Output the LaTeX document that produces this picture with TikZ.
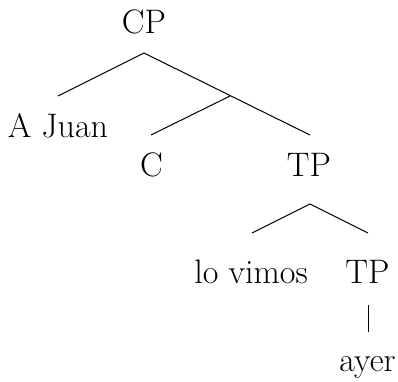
\documentclass[tikz,border=0pt]{standalone}
\usepackage{fontspec}
\begin{document}
\begin{tikzpicture}[x=1pt,y=-1pt,
  lbl/.style={anchor=base,inner sep=0pt,font=\fontsize{34}{40}\selectfont},
  edge/.style={line width=1pt}]
\useasboundingbox (0,0) rectangle (398,381);
\node[lbl] (cp) at (144,33) {CP};
\node[lbl] (aj) at (58,137) {A Juan};
\node[lbl] (c) at (151.5,176) {C};
\node[lbl] (tp) at (309,176) {TP};
\node[lbl] (lv) at (251,283) {lo vimos};
\node[lbl] (tp2) at (367.5,283) {TP};
\node[lbl] (ay) at (367.5,371) {ayer};
\coordinate (cpB) at (144,53);
\coordinate (ajT) at (58,96);
\coordinate (bar) at (230,96);
\coordinate (cT) at (151,135);
\coordinate (tpT) at (310,135);
\coordinate (tpB) at (310,204);
\coordinate (lvT) at (252,233);
\coordinate (tp2T) at (368,233);
\coordinate (tp2B) at (368,305);
\coordinate (ayT) at (368,332);
\draw[edge] (ajT) -- (cpB) -- (tpT);
\draw[edge] (cT) -- (bar);
\draw[edge] (lvT) -- (tpB) -- (tp2T);
\draw[edge] (tp2B) -- (ayT);
\end{tikzpicture}
\end{document}
